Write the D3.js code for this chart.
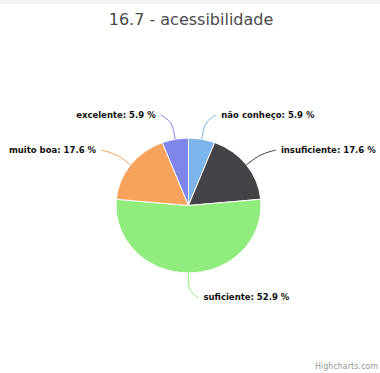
<!DOCTYPE html>
<html>
<head>
<meta charset="utf-8">
<script src="https://cdn.jsdelivr.net/npm/d3@7"></script>
<style>
  html, body { margin: 0; padding: 0; background: #fff; }
  svg { display: block; }
</style>
</head>
<body>
<svg id="chart" width="380" height="373"></svg>
<script>
const titleText = "16.7 - acessibilidade";
const categories = ["não conheço", "insuficiente", "suficiente", "muito boa", "excelente"];
const values = [1, 3, 9, 3, 1];
const percents = [5.9, 17.6, 52.9, 17.6, 5.9];
const colors = ["#7cb5ec", "#434348", "#90ed7d", "#f7a35c", "#8085e9"];
const creditText = "Highcharts.com";

const W = 380, H = 373;
const svg = d3.select("#chart");

svg.append("rect").attr("x", 0).attr("y", 0).attr("width", W).attr("height", 4).attr("fill", "#f4f4f4");

svg.append("text")
  .attr("x", 191).attr("y", 25)
  .attr("text-anchor", "middle")
  .attr("font-family", "'Lucida Grande', 'DejaVu Sans', sans-serif")
  .attr("font-size", 16)
  .attr("fill", "#4a4a4a")
  .text(titleText);

const cx = 188.5, cy = 205.5, rx = 72.5, ry = 67.5;
const sy = ry / rx;

const data = categories.map((c, i) => ({ name: c, value: values[i], pct: percents[i], color: colors[i] }));
const pie = d3.pie().value(d => d.value).sort(null);
const arcs = pie(data);
const arc = d3.arc().innerRadius(0).outerRadius(rx);

const g = svg.append("g").attr("transform", `translate(${cx},${cy}) scale(1,${sy})`);
g.selectAll("path.slice").data(arcs).join("path")
  .attr("class", "slice")
  .attr("d", arc)
  .attr("fill", d => d.data.color)
  .attr("stroke", "#fff")
  .attr("stroke-width", 1)
  .attr("stroke-linejoin", "round");

// labels + connectors
const Rh = 97, Rv = 92, off = 10, breakR = 10;
arcs.forEach(d => {
  const a = (d.startAngle + d.endAngle) / 2;
  const sa = Math.sin(a), ca = Math.cos(a);
  const right = a <= Math.PI + 1e-6;
  const sign = right ? 1 : -1;
  const ex = cx + sa * rx, ey = cy - ca * ry;
  const bx = cx + sa * (rx + breakR), by = cy - ca * (ry + breakR);
  const ax = cx + sa * Rh + sign * off;
  const ay = cy - ca * Rv;
  const p = d3.path();
  p.moveTo(ax, ay);
  p.bezierCurveTo(ax, ay, 2 * bx - ex, 2 * by - ey, bx, by);
  p.lineTo(ex, ey);
  svg.append("path")
    .attr("d", p.toString())
    .attr("fill", "none")
    .attr("stroke", d.data.color)
    .attr("stroke-width", 1);
  svg.append("text")
    .attr("x", ax + sign * 5)
    .attr("y", ay)
    .attr("dy", "0.35em")
    .attr("text-anchor", right ? "start" : "end")
    .attr("font-family", "'Lucida Grande', 'DejaVu Sans', sans-serif")
    .attr("font-weight", "bold")
    .attr("font-size", 8.5)
    .attr("fill", "#111")
    .text(`${d.data.name}: ${d.data.pct} %`);
});

svg.append("text")
  .attr("x", 378).attr("y", 369)
  .attr("text-anchor", "end")
  .attr("font-family", "'Lucida Grande', 'DejaVu Sans', sans-serif")
  .attr("font-size", 8)
  .attr("fill", "#999")
  .text(creditText);
</script>
</body>
</html>
